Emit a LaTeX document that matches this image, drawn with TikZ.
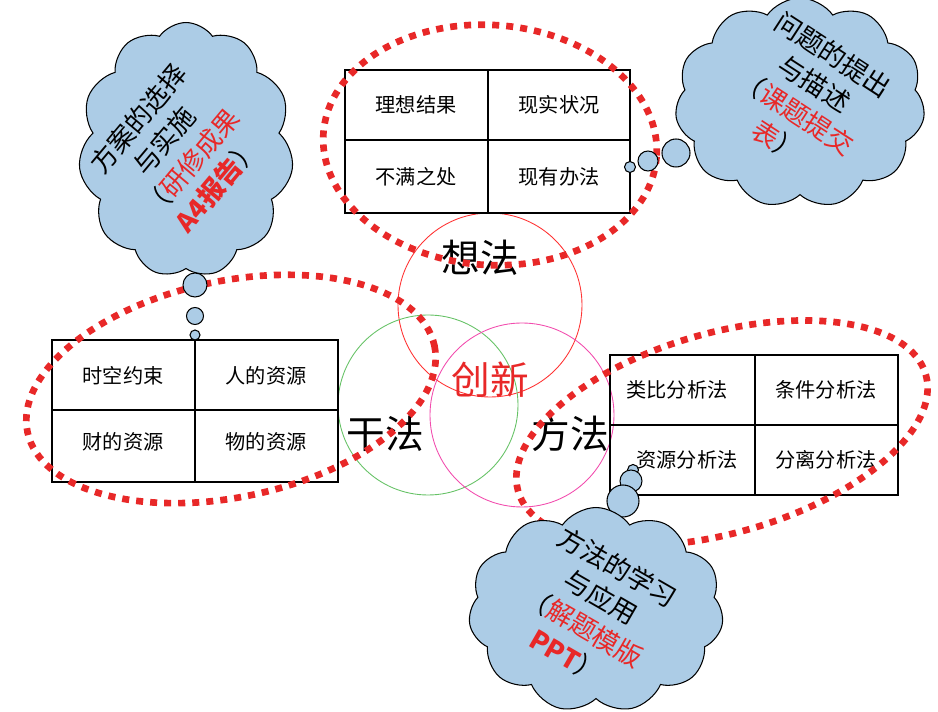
\documentclass[tikz,border=0pt]{standalone}
\usepackage{fontspec}
\setmainfont{Noto Sans CJK SC}
\usetikzlibrary{shapes.symbols}
\definecolor{dred}{RGB}{232,40,40}
\definecolor{cblue}{RGB}{172,204,230}
\tikzset{
 dots/.style={dred,line width=3.8pt,dash pattern=on 4pt off 4pt},
 tbl/.style={draw,line width=0.6pt},
 cell/.style={font=\fontsize{11.5}{13}\selectfont},
 big/.style={font=\fontsize{22}{24}\selectfont},
 cloudbox/.style={cloud,cloud puffs=11,cloud puff arc=110,draw,fill=cblue,line width=0.6pt,aspect=1},
 bub/.style={circle,draw,fill=cblue,line width=0.6pt,inner sep=0pt},
 ctext/.style={align=center,font=\fontsize{15}{19.5}\selectfont},
}
\begin{document}
\begin{tikzpicture}[x=0.02cm,y=-0.02cm]
\useasboundingbox (0,0) rectangle (938,712);
% circles
\draw[red!80,line width=0.5pt] (490,305) circle (92);
\draw[green!60!black!60,line width=0.5pt] (428,405) circle (90);
\draw[magenta!70,line width=0.5pt] (522,415) circle (92);
\node[big] (xf) at (480,258) {想法};
\node[big] (gf) at (385,434) {干法};
\node[big] (ff) at (570,434) {方法};
\node[big,dred] (cx) at (490,380) {创新};
% tables
\draw[tbl] (345,70) rectangle (630,213) (488,70) -- (488,213) (345,140) -- (630,140);
\node[cell] (t1) at (416,105) {理想结果};
\node[cell] (t2) at (559,105) {现实状况};
\node[cell] (t3) at (416,177) {不满之处};
\node[cell] (t4) at (559,177) {现有办法};
\draw[tbl] (52,340) rectangle (338,482) (195,340) -- (195,482) (52,410) -- (338,410);
\node[cell] (l1) at (123,376) {时空约束};
\node[cell] (l2) at (266,376) {人的资源};
\node[cell] (l3) at (123,442) {财的资源};
\node[cell] (l4) at (266,442) {物的资源};
\draw[tbl] (610,355) rectangle (898,495) (755,355) -- (755,495) (610,425) -- (898,425);
\node[cell] (r1) at (677,390) {类比分析法};
\node[cell] (r2) at (826,390) {条件分析法};
\node[cell] (r3) at (687,460) {资源分析法};
\node[cell] (r4) at (826,460) {分离分析法};
% dotted ellipses
\coordinate (et) at (490,145);
\coordinate (el) at (231,389);
\coordinate (er) at (722,433);
\draw[dots,rotate around={-4:(et)}] (et) ellipse [x radius=167,y radius=120];
\draw[dots,rotate around={12:(el)}] (el) ellipse [x radius=208,y radius=108];
\draw[dots,rotate around={16:(er)}] (er) ellipse [x radius=212,y radius=100];
% clouds
\node[cloudbox,minimum width=4.3cm,minimum height=5.1cm] (c1) at (186,150) {};
\node[bub,minimum size=24*0.02cm] (b1a) at (195,285) {};
\node[bub,minimum size=17*0.02cm] (b1b) at (195,316) {};
\node[bub,minimum size=10*0.02cm] (b1c) at (195,335) {};
\node[ctext,rotate=50] (c1t) at (178,152) {方案的选择\\与实施\\（{\color{dred}研修成果}\\{\color{dred}\bfseries A4报告}）};
\node[cloudbox,minimum width=5.0cm,minimum height=4.2cm] (c2) at (800,103) {};
\node[bub,minimum size=28*0.02cm] (b2a) at (676,153) {};
\node[bub,minimum size=20*0.02cm] (b2b) at (648,161) {};
\node[bub,minimum size=11*0.02cm] (b2c) at (630,167) {};
\node[ctext,rotate=-33] (c2t) at (805,98) {问题的提出\\与描述\\（{\color{dred}课题提交}\\{\color{dred}表}）};
\node[bub,minimum size=11*0.02cm] (b3c) at (633,470) {};
\node[bub,minimum size=22*0.02cm] (b3b) at (631,481) {};
\node[bub,minimum size=32*0.02cm] (b3a) at (623,501) {};
\node[cloudbox,minimum width=5.1cm,minimum height=4.1cm] (c3) at (596,610) {};
\node[ctext,rotate=-30] (c3t) at (592,612) {方法的学习\\与应用\\（{\color{dred}解题模版}\\{\color{dred}\bfseries PPT}）};
\end{tikzpicture}
\end{document}
